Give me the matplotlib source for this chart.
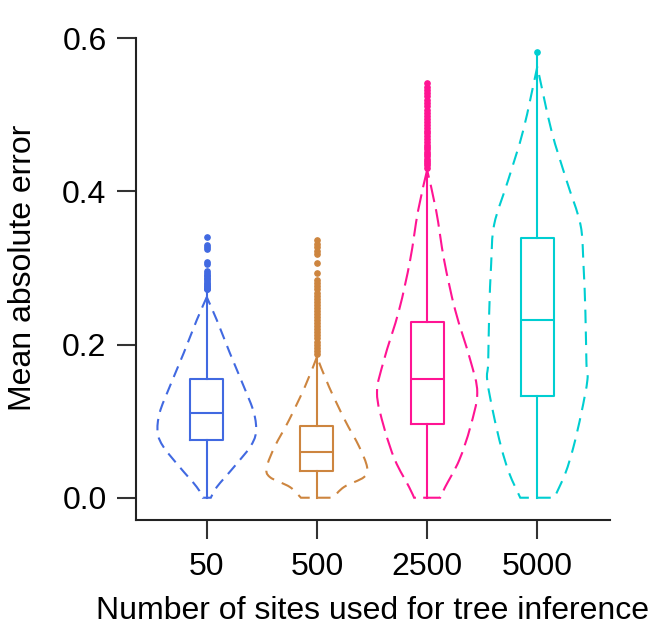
import numpy as np
import matplotlib
matplotlib.use("Agg")
import matplotlib.pyplot as plt
from matplotlib.path import Path
from matplotlib.patches import PathPatch

plt.rcParams['font.family'] = ['Liberation Sans', 'DejaVu Sans']

groups = ['50', '500', '2500', '5000']
colors = ['#4169E1', '#CD853F', '#FF1493', '#00CED1']

# box stats
q1 = [0.075, 0.035, 0.096, 0.133]
med = [0.111, 0.060, 0.155, 0.232]
q3 = [0.155, 0.094, 0.230, 0.339]
whis_lo = [0.0, 0.0, 0.0, 0.0]
whis_hi = [0.271, 0.184, 0.428, 0.580]

out_50 = [0.341, 0.330, 0.327, 0.325, 0.308, 0.305, 0.296, 0.293, 0.291, 0.289,
          0.287, 0.285, 0.283, 0.281, 0.279, 0.277, 0.276, 0.274, 0.273, 0.272]
out_500 = [0.336, 0.332, 0.328, 0.322, 0.318, 0.306, 0.294, 0.284, 0.280, 0.276,
           0.272, 0.268, 0.264, 0.260, 0.256, 0.252, 0.248, 0.244, 0.240, 0.236,
           0.232, 0.228, 0.224, 0.220, 0.216, 0.212, 0.208, 0.204, 0.200, 0.196,
           0.192, 0.188]
out_2500 = [0.541, 0.537, 0.533, 0.528, 0.524, 0.520, 0.515, 0.511, 0.507, 0.503,
            0.499, 0.495, 0.491, 0.487, 0.483, 0.479, 0.476, 0.472, 0.468, 0.465,
            0.461, 0.458, 0.455, 0.452, 0.449, 0.446, 0.443, 0.440, 0.437, 0.434,
            0.431]
out_5000 = [0.582]
outliers = [out_50, out_500, out_2500, out_5000]

# violin outlines: heights and relative half widths (1 = widest)
vy_50 = [0.0, 0.014, 0.040, 0.066, 0.085, 0.111, 0.145, 0.189, 0.232, 0.262]
vw_50 = [0.08, 0.20, 0.54, 0.86, 0.98, 0.94, 0.74, 0.46, 0.20, 0.0]
vy_500 = [0.0, 0.014, 0.027, 0.040, 0.067, 0.101, 0.145, 0.184]
vw_500 = [0.32, 0.54, 0.94, 1.0, 0.84, 0.56, 0.24, 0.0]
vy_2500 = [0.0, 0.014, 0.049, 0.092, 0.137, 0.180, 0.245, 0.310, 0.375, 0.428]
vw_2500 = [0.26, 0.36, 0.64, 0.86, 1.0, 0.86, 0.56, 0.34, 0.18, 0.0]
vy_5000 = [0.0, 0.032, 0.066, 0.111, 0.154, 0.176, 0.241, 0.306, 0.357, 0.415,
           0.480, 0.563]
vw_5000 = [0.34, 0.56, 0.72, 0.88, 1.0, 0.98, 0.96, 0.92, 0.86, 0.58, 0.28, 0.0]
violin_y = [vy_50, vy_500, vy_2500, vy_5000]
violin_w = [vw_50, vw_500, vw_2500, vw_5000]

dash_styles = [(0, (5.5, 3.5)), (0, (6, 4)), (0, (8.5, 3.5)), (0, (6.5, 4))]


def smooth_side(pts):
    # catmull-rom through the read points, as cubic bezier segments
    p = np.vstack([pts[0], pts, pts[-1]])
    verts, codes = [], []
    for k in range(1, len(p) - 2):
        c1 = p[k] + (p[k + 1] - p[k - 1]) / 6.0
        c2 = p[k + 1] - (p[k + 2] - p[k]) / 6.0
        verts += [c1, c2, p[k + 1]]
        codes += [Path.CURVE4] * 3
    return verts, codes


fig = plt.figure(figsize=(6.56, 6.31), dpi=100)
ax = fig.add_axes([0.2069, 0.1759, 0.9299 - 0.2069, 0.9393 - 0.1759])

pos = np.arange(1, len(groups) + 1)

for i in range(len(groups)):
    y = np.array(violin_y[i])
    w = np.array(violin_w[i]) * 0.455
    left = np.column_stack([pos[i] - w, y])[::-1]   # top -> bottom
    right = np.column_stack([pos[i] + w, y])        # bottom -> top
    verts = [left[0]]
    codes = [Path.MOVETO]
    v, c = smooth_side(left)
    verts += v
    codes += c
    verts.append(right[0])
    codes.append(Path.LINETO)
    v, c = smooth_side(right)
    verts += v
    codes += c
    patch = PathPatch(Path(verts, codes), fill=False, edgecolor=colors[i],
                      lw=1.5, linestyle=dash_styles[i])
    ax.add_patch(patch)

stats = []
for i in range(len(groups)):
    stats.append(dict(med=med[i], q1=q1[i], q3=q3[i], whislo=whis_lo[i],
                      whishi=whis_hi[i], fliers=outliers[i]))

for i in range(len(groups)):
    c = colors[i]
    ax.bxp([stats[i]], positions=[pos[i]], widths=0.3, showcaps=False,
           boxprops=dict(color=c, lw=1.5),
           medianprops=dict(color=c, lw=1.5),
           whiskerprops=dict(color=c, lw=1.5),
           flierprops=dict(marker='o', markersize=3.8, markerfacecolor=c,
                           markeredgecolor=c, linestyle='none'),
           manage_ticks=False)

ax.set_xlim(0.355, 4.66)
ax.set_ylim(-0.0291, 0.6)
ax.set_xticks(pos)
ax.set_xticklabels(groups)
ax.set_yticks([0.0, 0.2, 0.4, 0.6])
ax.set_yticklabels(['0.0', '0.2', '0.4', '0.6'])

for s in ['top', 'right']:
    ax.spines[s].set_visible(False)
for s in ['left', 'bottom']:
    ax.spines[s].set_linewidth(1.5)
    ax.spines[s].set_color('#222222')

fs = 23
ax.tick_params(axis='both', direction='out', length=14, width=1.5,
               color='#333333', labelsize=fs, labelcolor='black')
ax.tick_params(axis='x', pad=9)
ax.tick_params(axis='y', pad=7)

ax.set_xlabel('Number of sites used for tree inference', fontsize=fs)
ax.set_ylabel('Mean absolute error', fontsize=fs)
ax.xaxis.set_label_coords(0.5, -0.158)
ax.yaxis.set_label_coords(-0.205, 0.523)

fig.savefig('out.png', dpi=100)
